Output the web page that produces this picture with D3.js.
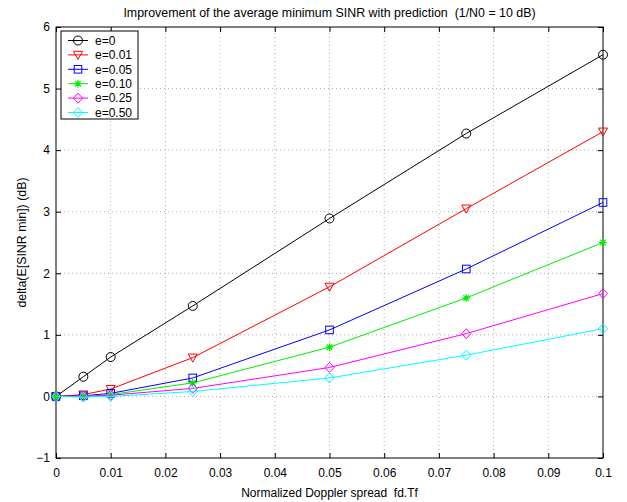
<!DOCTYPE html>
<html>
<head>
<meta charset="utf-8">
<script src="https://cdn.jsdelivr.net/npm/d3@7"></script>
<style>
  body { margin: 0; background: #fff; }
  svg { font-family: "Liberation Sans", Arial, sans-serif; }
</style>
</head>
<body>
<div id="chart"></div>
<script>
const xValues = [0, 0.005, 0.01, 0.025, 0.05, 0.075, 0.1];
const labels = ["e=0", "e=0.01", "e=0.05", "e=0.10", "e=0.25", "e=0.50"];
const e000 = [0, 0.32, 0.64, 1.47, 2.89, 4.27, 5.55];
const e001 = [0, 0.03, 0.12, 0.63, 1.78, 3.05, 4.30];
const e005 = [0, 0.01, 0.05, 0.30, 1.08, 2.07, 3.15];
const e010 = [0, 0.00, 0.03, 0.22, 0.80, 1.60, 2.50];
const e025 = [0, 0.00, 0.02, 0.13, 0.47, 1.02, 1.67];
const e050 = [0, -0.01, 0.00, 0.08, 0.30, 0.67, 1.10];
const xTicks = [0, 0.01, 0.02, 0.03, 0.04, 0.05, 0.06, 0.07, 0.08, 0.09, 0.1];
const yTicks = [-1, 0, 1, 2, 3, 4, 5, 6];

const seriesData = [e000, e001, e005, e010, e025, e050];
const colors = ["#000000", "#ff0000", "#0000ff", "#00ee00", "#ff00ff", "#00ffff"];
const markers = ["circle", "triangle", "square", "star", "diamond", "diamond"];

const width = 627, height = 502;
const margin = { left: 56, right: 24, top: 27, bottom: 44 };

const svg = d3.select("#chart").append("svg")
    .attr("width", width)
    .attr("height", height);

const x = d3.scaleLinear().domain([0, 0.1]).range([margin.left, width - margin.right]);
const y = d3.scaleLinear().domain([-1, 6]).range([height - margin.bottom, margin.top]);

// grid
const grid = svg.append("g").attr("stroke", "#000").attr("stroke-width", 0.6)
    .attr("stroke-dasharray", "1,3").attr("opacity", 0.55);
xTicks.slice(1, -1).forEach(t => {
    grid.append("line").attr("x1", x(t)).attr("x2", x(t)).attr("y1", y(-1)).attr("y2", y(6));
});
yTicks.slice(1, -1).forEach(t => {
    grid.append("line").attr("x1", x(0)).attr("x2", x(0.1)).attr("y1", y(t)).attr("y2", y(t));
});

// axes (ticks inward)
const fmtX = d => d === 0 ? "0" : String(+d.toFixed(2));
svg.append("g")
    .attr("transform", `translate(0,${y(-1)})`)
    .call(d3.axisBottom(x).tickValues(xTicks).tickSize(-5).tickPadding(10).tickFormat(fmtX))
    .call(g => g.select(".domain").remove());
svg.append("g")
    .attr("transform", `translate(0,${y(6)})`)
    .call(d3.axisTop(x).tickValues(xTicks).tickSize(-5).tickFormat(""))
    .call(g => g.select(".domain").remove());
svg.append("g")
    .attr("transform", `translate(${x(0)},0)`)
    .call(d3.axisLeft(y).tickValues(yTicks).tickSize(-5).tickPadding(6).tickFormat(d => d < 0 ? "\u22121" : d))
    .call(g => g.select(".domain").remove());
svg.append("g")
    .attr("transform", `translate(${x(0.1)},0)`)
    .call(d3.axisRight(y).tickValues(yTicks).tickSize(-5).tickFormat(""))
    .call(g => g.select(".domain").remove());
svg.selectAll(".tick text").attr("font-size", 12).attr("font-family", "Liberation Sans, Arial, sans-serif").attr("fill", "#000");
svg.selectAll(".tick line").attr("stroke", "#000");

svg.append("rect")
    .attr("x", x(0)).attr("y", y(6))
    .attr("width", x(0.1) - x(0)).attr("height", y(-1) - y(6))
    .attr("fill", "none").attr("stroke", "#000").attr("stroke-width", 1);

function marker(g, type, cx, cy, color) {
    const s = 4.5;
    if (type === "circle") {
        g.append("circle").attr("cx", cx).attr("cy", cy).attr("r", s)
            .attr("fill", "none").attr("stroke", color);
    } else if (type === "triangle") {
        g.append("path").attr("d", `M${cx - s},${cy - s * 0.8}L${cx + s},${cy - s * 0.8}L${cx},${cy + s}Z`)
            .attr("fill", "none").attr("stroke", color);
    } else if (type === "square") {
        g.append("rect").attr("x", cx - 3.8).attr("y", cy - 3.8).attr("width", 7.6).attr("height", 7.6)
            .attr("fill", "none").attr("stroke", color);
    } else if (type === "star") {
        const r = 4;
        const d = [0, 45, 90, 135].map(a => {
            const rad = a * Math.PI / 180;
            return `M${cx - r * Math.cos(rad)},${cy - r * Math.sin(rad)}L${cx + r * Math.cos(rad)},${cy + r * Math.sin(rad)}`;
        }).join("");
        g.append("path").attr("d", d).attr("stroke", color).attr("stroke-width", 1.2);
    } else if (type === "diamond") {
        g.append("path").attr("d", `M${cx},${cy - s - 0.5}L${cx + s},${cy}L${cx},${cy + s + 0.5}L${cx - s},${cy}Z`)
            .attr("fill", "none").attr("stroke", color);
    }
}

const line = d3.line().x((d, i) => x(xValues[i])).y(d => y(d));
seriesData.forEach((vals, k) => {
    const g = svg.append("g");
    g.append("path").datum(vals).attr("d", line)
        .attr("fill", "none").attr("stroke", colors[k]).attr("stroke-width", 1);
    vals.forEach((v, i) => marker(g, markers[k], x(xValues[i]), y(v), colors[k]));
});

// legend
const lg = svg.append("g");
const lx = 61, ly = 31, rowH = 14.4;
lg.append("rect").attr("x", lx).attr("y", ly).attr("width", 77).attr("height", 88)
    .attr("fill", "#fff").attr("stroke", "#000").attr("stroke-width", 1);
labels.forEach((lab, k) => {
    const cy = ly + 9.5 + k * rowH;
    lg.append("line").attr("x1", lx + 7).attr("x2", lx + 27).attr("y1", cy).attr("y2", cy)
        .attr("stroke", colors[k]);
    marker(lg, markers[k], lx + 17, cy, colors[k]);
    lg.append("text").attr("x", lx + 34).attr("y", cy + 4.3).attr("font-size", 12).text(lab);
});

// title and axis labels
svg.append("text").attr("x", (x(0) + x(0.1)) / 2).attr("y", 17).attr("text-anchor", "middle")
    .attr("font-size", 12.4).style("white-space", "pre")
    .text("Improvement of the average minimum SINR with prediction  (1/N0 = 10 dB)");
svg.append("text").attr("x", (x(0) + x(0.1)) / 2).attr("y", 497).attr("text-anchor", "middle")
    .attr("font-size", 12).style("white-space", "pre").text("Normalized Doppler spread  fd.Tf");
svg.append("text").attr("transform", `translate(26,${(y(-1) + y(6)) / 2}) rotate(-90)`)
    .attr("text-anchor", "middle").attr("font-size", 12.4).text("delta(E[SINR min]) (dB)");
</script>
</body>
</html>
